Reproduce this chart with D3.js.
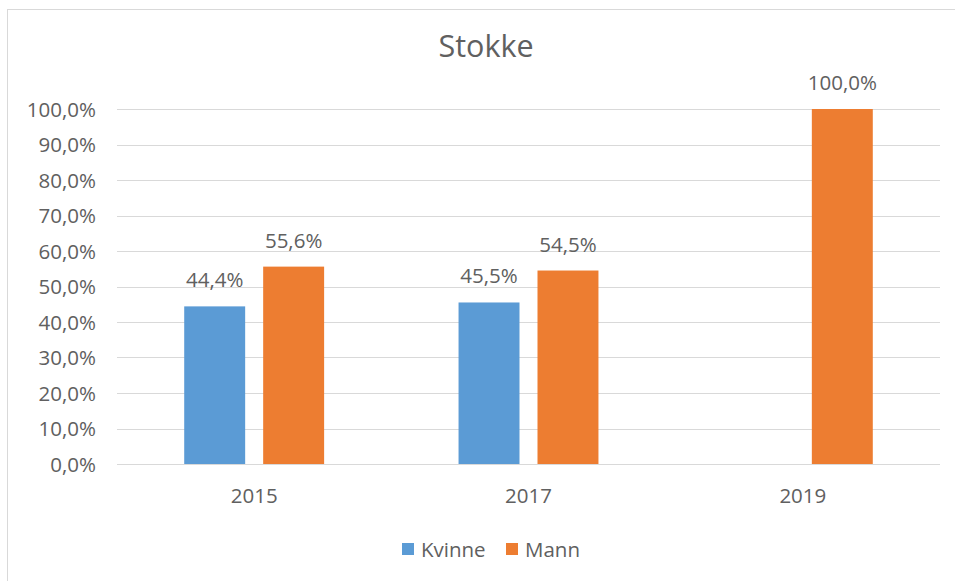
<!DOCTYPE html>
<html><head><meta charset="utf-8">
<script src="https://cdn.jsdelivr.net/npm/d3@7"></script>
<style>
body{margin:0;background:#fff;}
svg{display:block;font-family:"Open Sans",sans-serif;}
</style></head>
<body><svg id="c" width="955" height="581"></svg>
<script>
const title = "Stokke";
const categories = ["2015", "2017", "2019"];
const seriesNames = ["Kvinne", "Mann"];
const kvinne = [44.4, 45.5, null];
const mann = [55.6, 54.5, 100.0];
const yTicks = [0,10,20,30,40,50,60,70,80,90,100];
const colors = ["#5b9bd5", "#ed7d31"];

const svg = d3.select("#c");
const fmt = v => d3.format(".1f")(v).replace(".", ",") + "%";

// chart border
svg.append("rect").attr("x",7.5).attr("y",9.5).attr("width",960).attr("height",600)
  .attr("fill","none").attr("stroke","#d9d9d9");

const pLeft = 117, pRight = 940, pTop = 109, pBottom = 464;
const x0 = d3.scaleBand().domain(categories).range([pLeft,pRight]).paddingInner(0.49).paddingOuter(0.245);
const x1 = d3.scaleBand().domain(seriesNames).range([0,x0.bandwidth()]).paddingInner(0.228);
const y = d3.scaleLinear().domain([0,100]).range([pBottom,pTop]);

// gridlines
svg.append("g").selectAll("line").data(yTicks).join("line")
  .attr("x1",pLeft).attr("x2",pRight)
  .attr("y1",d=>Math.round(y(d))+0.5).attr("y2",d=>Math.round(y(d))+0.5)
  .attr("stroke","#d9d9d9").attr("stroke-width",1);

// y axis labels
const yAxis = d3.axisLeft(y).tickValues(yTicks).tickFormat(fmt).tickSize(0).tickPadding(0);
const ya = svg.append("g").attr("transform",`translate(96,0)`).call(yAxis);
ya.select(".domain").remove();
ya.selectAll("text").attr("fill","#606060").style("font-size","20.5px").style("font-family","Open Sans").attr("dy","0.35em");

// x axis labels
const xAxis = d3.axisBottom(x0).tickSize(0).tickPadding(0);
const xa = svg.append("g").attr("transform",`translate(0,${pBottom+24})`).call(xAxis);
xa.select(".domain").remove();
xa.selectAll("text").attr("fill","#606060").style("font-size","20.5px").style("font-family","Open Sans").attr("dy","0.71em");

const rows = categories.map((c,i)=>({cat:c, vals:[{s:"Kvinne",v:kvinne[i]},{s:"Mann",v:mann[i]}]}));
const g = svg.append("g").selectAll("g").data(rows).join("g")
  .attr("transform",d=>`translate(${x0(d.cat)},0)`);
g.selectAll("rect").data(d=>d.vals.filter(e=>e.v!=null)).join("rect")
  .attr("x",d=>x1(d.s)).attr("width",x1.bandwidth())
  .attr("y",d=>y(d.v)).attr("height",d=>y(0)-y(d.v))
  .attr("fill",(d)=>colors[seriesNames.indexOf(d.s)]);
g.selectAll("text").data(d=>d.vals.filter(e=>e.v!=null)).join("text")
  .attr("x",d=>x1(d.s)+x1.bandwidth()/2).attr("y",d=>y(d.v)-19)
  .attr("text-anchor","middle").attr("fill","#606060").style("font-size","20.5px")
  .text(d=>fmt(d.v));

// title
svg.append("text").attr("x",486).attr("y",57).attr("text-anchor","middle")
  .attr("fill","#606060").style("font-size","30.5px").text(title);

// legend
const legX = [402, 506];
const lg = svg.append("g").selectAll("g").data(seriesNames).join("g")
  .attr("transform",(d,i)=>`translate(${legX[i]},543)`);
lg.append("rect").attr("width",12).attr("height",12).attr("fill",(d,i)=>colors[i]);
lg.append("text").attr("x",19).attr("y",14).attr("fill","#606060").style("font-size","20.5px").text(d=>d);
</script></body></html>
